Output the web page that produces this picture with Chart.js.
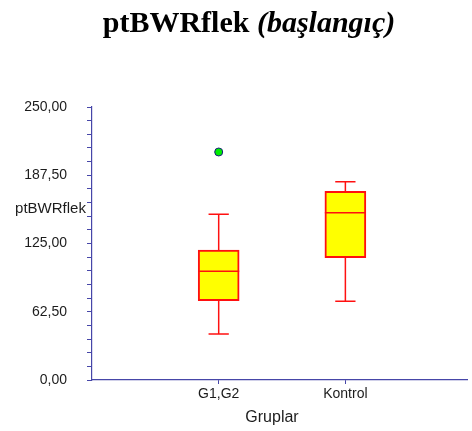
<!DOCTYPE html>
<html>
<head>
<meta charset="utf-8">
<script src="https://cdn.jsdelivr.net/npm/chart.js@4/dist/chart.umd.min.js"></script>
<style>
  html, body { margin: 0; padding: 0; background: #ffffff; }
  #wrap { width: 472px; height: 431px; position: relative; }
</style>
</head>
<body>
<div id="wrap"><canvas id="c"></canvas></div>
<script>
// Box-plot summary per group
const groups = ['G1,G2', 'Kontrol'];
const groupPos = [1, 2];
const lowerWhisker = [42.1, 72.1];
const q1 = [72.6, 112.0];
const median = [99.5, 153.2];
const q3 = [119.0, 172.8];
const upperWhisker = [151.7, 181.6];

// Outlying observations (group position, value)
const outlierPos = [1];
const outlierValue = [208.8];

// Y axis: labelled every 62.5, minor marks every 12.5
const yLabelStep = 62.5;
const yMinorStep = 12.5;
const yMin = 0;
const yMax = 250;

// Drawing constants
const AXIS_COLOR = '#4646a8';
const TEXT_COLOR = '#1c1c1c';
const BOX_FILL = '#ffff00';
const BOX_EDGE = '#ff1010';
const CAP_HALF = 0.08;     // half width of whisker caps, in x units
const BOX_HALF = 0.162;    // half width of the box, in x units

function segmentsFor(builder) {
  const pts = [];
  groupPos.forEach((x, i) => {
    builder(x, i).forEach(seg => {
      pts.push(seg[0], seg[1], { x: x, y: null });
    });
  });
  return pts;
}

const whiskerData = segmentsFor((x, i) => [
  [{ x: x, y: q3[i] }, { x: x, y: upperWhisker[i] }],
  [{ x: x - CAP_HALF, y: upperWhisker[i] }, { x: x + CAP_HALF, y: upperWhisker[i] }],
  [{ x: x, y: q1[i] }, { x: x, y: lowerWhisker[i] }],
  [{ x: x - CAP_HALF, y: lowerWhisker[i] }, { x: x + CAP_HALF, y: lowerWhisker[i] }]
]);

const medianData = segmentsFor((x, i) => [
  [{ x: x - BOX_HALF, y: median[i] }, { x: x + BOX_HALF, y: median[i] }]
]);

const boxData = groupPos.map((x, i) => ({ x: x, y: [q1[i], q3[i]] }));
const outlierData = outlierPos.map((x, i) => ({ x: x, y: outlierValue[i] }));

function formatTick(v) {
  return v.toFixed(2).replace('.', ',');
}

// Title, horizontal y-axis name and x-axis name
const textPlugin = {
  id: 'chartTexts',
  afterDraw(chart) {
    const ctx = chart.ctx;
    const area = chart.chartArea;
    ctx.save();
    ctx.fillStyle = '#000000';
    ctx.textBaseline = 'alphabetic';
    const boldFont = 'bold 30px "Liberation Serif", "Times New Roman", serif';
    const italicFont = 'italic bold 30px "Liberation Serif", "Times New Roman", serif';
    const part1 = 'ptBWRflek ';
    const part2 = '(başlangıç)';
    ctx.font = boldFont;
    const w1 = ctx.measureText(part1).width;
    ctx.font = italicFont;
    const w2 = ctx.measureText(part2).width;
    const startX = 249 - (w1 + w2) / 2;
    ctx.font = boldFont;
    ctx.textAlign = 'left';
    ctx.fillText(part1, startX, 32);
    ctx.font = italicFont;
    ctx.fillText(part2, startX + w1, 32);

    ctx.fillStyle = TEXT_COLOR;
    ctx.font = '15px "Liberation Sans", Arial, sans-serif';
    ctx.textAlign = 'center';
    ctx.fillText('ptBWRflek', 50.5, area.top + (area.bottom - area.top) * 0.39);

    ctx.font = '16px "Liberation Sans", Arial, sans-serif';
    ctx.fillText('Gruplar', 272, 422);
    ctx.restore();
  }
};

new Chart(document.getElementById('c'), {
  type: 'bar',
  data: {
    datasets: [
      {
        type: 'line',
        data: whiskerData,
        borderColor: BOX_EDGE,
        borderWidth: 1.5,
        pointRadius: 0,
        spanGaps: false,
        order: 3
      },
      {
        type: 'bar',
        data: boxData,
        backgroundColor: BOX_FILL,
        borderColor: BOX_EDGE,
        borderWidth: 2,
        borderSkipped: false,
        barThickness: 41,
        order: 2
      },
      {
        type: 'line',
        data: medianData,
        borderColor: BOX_EDGE,
        borderWidth: 1.5,
        pointRadius: 0,
        spanGaps: false,
        order: 1
      },
      {
        type: 'line',
        data: outlierData,
        showLine: false,
        pointRadius: 4,
        pointBackgroundColor: '#00ee00',
        pointBorderColor: '#1a1a80',
        pointBorderWidth: 1,
        order: 0
      }
    ]
  },
  options: {
    responsive: true,
    maintainAspectRatio: false,
    animation: false,
    events: [],
    layout: { padding: { top: 107, right: 0, bottom: 0, left: 0 } },
    plugins: {
      legend: { display: false },
      tooltip: { enabled: false },
      title: { display: false }
    },
    scales: {
      x: {
        type: 'linear',
        min: 0,
        max: 2.96,
        offset: false,
        afterBuildTicks(scale) {
          scale.ticks = groupPos.map(v => ({ value: v }));
        },
        afterFit(scale) { scale.height = 51; },
        ticks: {
          callback: (v) => groups[groupPos.indexOf(v)] || '',
          color: TEXT_COLOR,
          font: { family: '"Liberation Sans", Arial, sans-serif', size: 14 },
          padding: 2,
          maxRotation: 0,
          autoSkip: false
        },
        grid: {
          offset: false,
          drawOnChartArea: false,
          drawTicks: true,
          tickLength: 4,
          tickColor: AXIS_COLOR
        },
        border: { color: AXIS_COLOR, width: 1.2 }
      },
      y: {
        type: 'linear',
        min: yMin,
        max: yMax,
        afterFit(scale) { scale.width = 92; },
        ticks: {
          stepSize: yMinorStep,
          autoSkip: false,
          callback: (v) => (Math.abs(v / yLabelStep - Math.round(v / yLabelStep)) < 1e-9 ? formatTick(v) : ''),
          color: TEXT_COLOR,
          font: { family: '"Liberation Sans", Arial, sans-serif', size: 14 },
          padding: 20
        },
        grid: {
          drawOnChartArea: false,
          drawTicks: true,
          tickLength: 5,
          tickColor: AXIS_COLOR
        },
        border: { color: AXIS_COLOR, width: 1.2 }
      }
    }
  },
  plugins: [textPlugin]
});
</script>
</body>
</html>
